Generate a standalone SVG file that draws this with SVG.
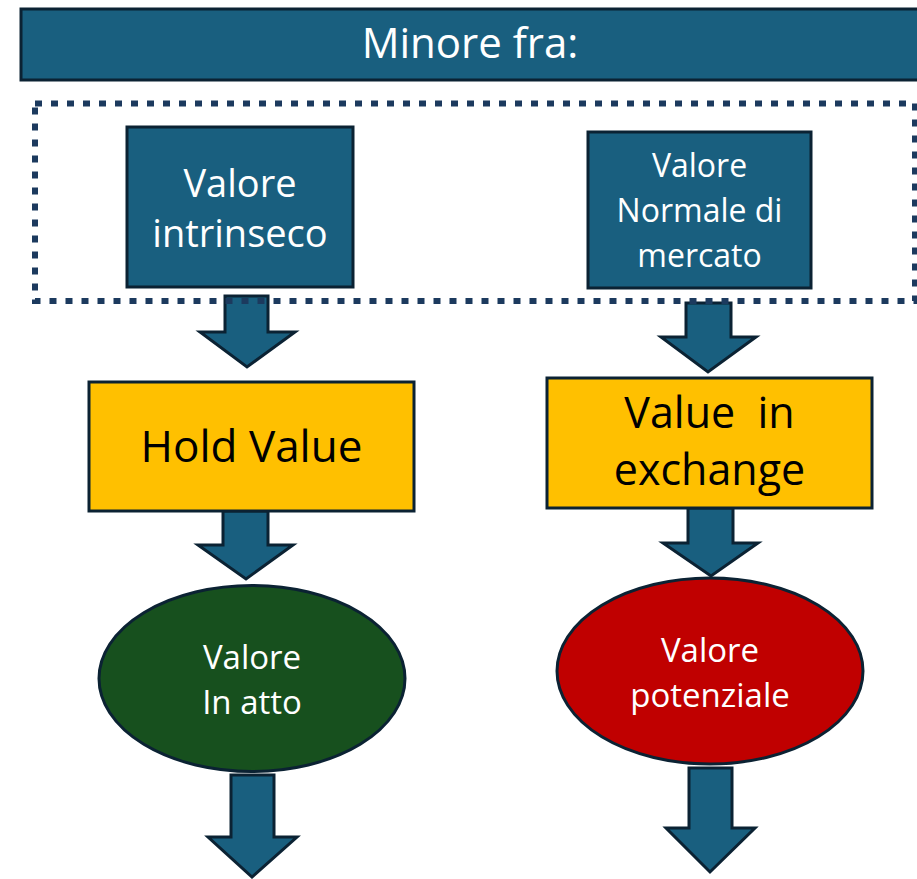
<svg xmlns="http://www.w3.org/2000/svg" width="917" height="879" viewBox="0 0 917 879">
<style>
text{font-family:"Open Sans","Noto Sans","Liberation Sans",sans-serif;text-anchor:middle}
.blue{fill:#195F7F;stroke:#0B2233;stroke-width:3}
.yel{fill:#FFC000;stroke:#0B2233;stroke-width:3}
.arrow{fill:#195F7F;stroke:#0B2233;stroke-width:3;stroke-linejoin:miter}
.w{fill:#FFFFFF}
.k{fill:#000000}
</style>
<rect width="917" height="879" fill="#FFFFFF"/>
<g id="title">
<rect class="blue" x="21" y="9" width="910" height="71"/>
<text class="w" x="470" y="58" font-size="42">Minore fra:</text>
</g>
<g id="connectors">
<polygon class="arrow" points="225,296 268,296 268,332 295,332 247,367 200,332 225,332"/>
<polygon class="arrow" points="223,511 268,511 268,545 293,545 246,579 198,545 223,545"/>
<polygon class="arrow" points="231,775 274,775 274,837 297,837 252,877 208,837 231,837"/>
<polygon class="arrow" points="686,303 731,303 731,337 756,337 708,372 661,337 686,337"/>
<polygon class="arrow" points="688,508 733,508 733,543 758,543 711,576 663,543 688,543"/>
<polygon class="arrow" points="689,768 732,768 732,828 755,828 710,872 666,828 689,828"/>
</g>
<g id="group-frame">
<rect x="35" y="103.5" width="880" height="197.5" fill="none" stroke="#1C3A5E" stroke-width="6" stroke-dasharray="7 9"/>
</g>
<g id="valore-intrinseco">
<rect class="blue" x="127" y="127" width="226" height="160"/>
<text class="w" x="240" y="197" font-size="38">Valore</text>
<text class="w" x="240" y="247" font-size="38">intrinseco</text>
</g>
<g id="valore-normale">
<rect class="blue" x="588" y="132" width="223" height="156"/>
<text class="w" x="699.5" y="177" font-size="32">Valore</text>
<text class="w" x="699.5" y="222" font-size="32">Normale di</text>
<text class="w" x="699.5" y="267" font-size="32">mercato</text>
</g>
<g id="hold-value">
<rect class="yel" x="89" y="382" width="325" height="129"/>
<text class="k" x="251.5" y="462" font-size="44">Hold Value</text>
</g>
<g id="value-in-exchange">
<rect class="yel" x="547" y="378" width="325" height="130"/>
<text class="k" x="709.5" y="428" font-size="43" xml:space="preserve">Value  in</text>
<text class="k" x="709.5" y="485" font-size="43">exchange</text>
</g>
<g id="valore-in-atto">
<ellipse cx="252" cy="678.5" rx="153" ry="93" fill="#17501E" stroke="#0B2233" stroke-width="3"/>
<text class="w" x="252" y="669" font-size="33">Valore</text>
<text class="w" x="252" y="714" font-size="33">In atto</text>
</g>
<g id="valore-potenziale">
<ellipse cx="710" cy="671" rx="153" ry="93" fill="#C00000" stroke="#0B2233" stroke-width="3"/>
<text class="w" x="710" y="662" font-size="33">Valore</text>
<text class="w" x="710" y="707" font-size="33">potenziale</text>
</g>
</svg>
